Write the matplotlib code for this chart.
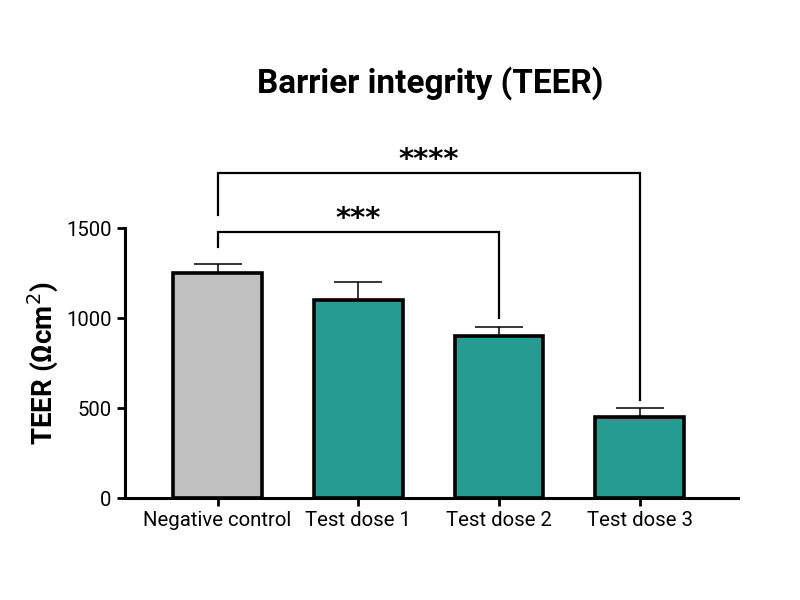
import matplotlib
matplotlib.use("Agg")
import matplotlib.pyplot as plt
import numpy as np

plt.rcParams['font.family'] = ['Roboto', 'DejaVu Sans']

categories = ["Negative control", "Test dose 1", "Test dose 2", "Test dose 3"]
means = [1250, 1100, 900, 450]
errors = [50, 100, 50, 50]
colors = ["#C0C0C0", "#259B91", "#259B91", "#259B91"]
comparisons = [(0, 2, "***"), (0, 3, "****")]
bracket_y = [1478, 1806]
left_leg_end = [1394, 1572]
right_leg_end = [1000, 544]

fig = plt.figure(figsize=(8, 6), dpi=100)
ax = fig.add_axes([0.156, 0.17, 0.7665, 0.45])
x = np.arange(len(categories))
ax.errorbar(x, means, yerr=[np.zeros(len(errors)), errors], fmt='none',
            ecolor='black', elinewidth=1.1, capsize=17, capthick=1.1, zorder=1)
ax.bar(x, means, width=0.63, color=colors, edgecolor='black', linewidth=2.6, zorder=2)

for (i, j, label), by, le, re in zip(comparisons, bracket_y, left_leg_end, right_leg_end):
    ax.plot([x[i], x[i], x[j], x[j]], [le, by, by, re], color='black', lw=1.6,
            clip_on=False, solid_joinstyle='miter')
    ax.text((x[i] + x[j]) / 2, by + 70, label, ha='center', va='center',
            fontsize=21, fontweight='bold', family='DejaVu Sans', clip_on=False)

ax.set_xlim(-0.66, 3.7)
ax.set_ylim(0, 1500)
ax.set_yticks([0, 500, 1000, 1500])
ax.set_xticks(x)
ax.set_xticklabels(categories)
ax.tick_params(axis='both', labelsize=14.7, width=2, length=6, colors='black')
ax.spines['top'].set_visible(False)
ax.spines['right'].set_visible(False)
ax.spines['left'].set_linewidth(2.2)
ax.spines['bottom'].set_linewidth(2.2)
ax.set_ylabel("TEER (Ωcm$^2$)", fontsize=20, fontweight='bold', labelpad=4)
fig.text(0.538, 0.862, "Barrier integrity (TEER)", ha='center', va='center',
         fontsize=24, fontweight='bold')

fig.savefig("out.png", dpi=100)
